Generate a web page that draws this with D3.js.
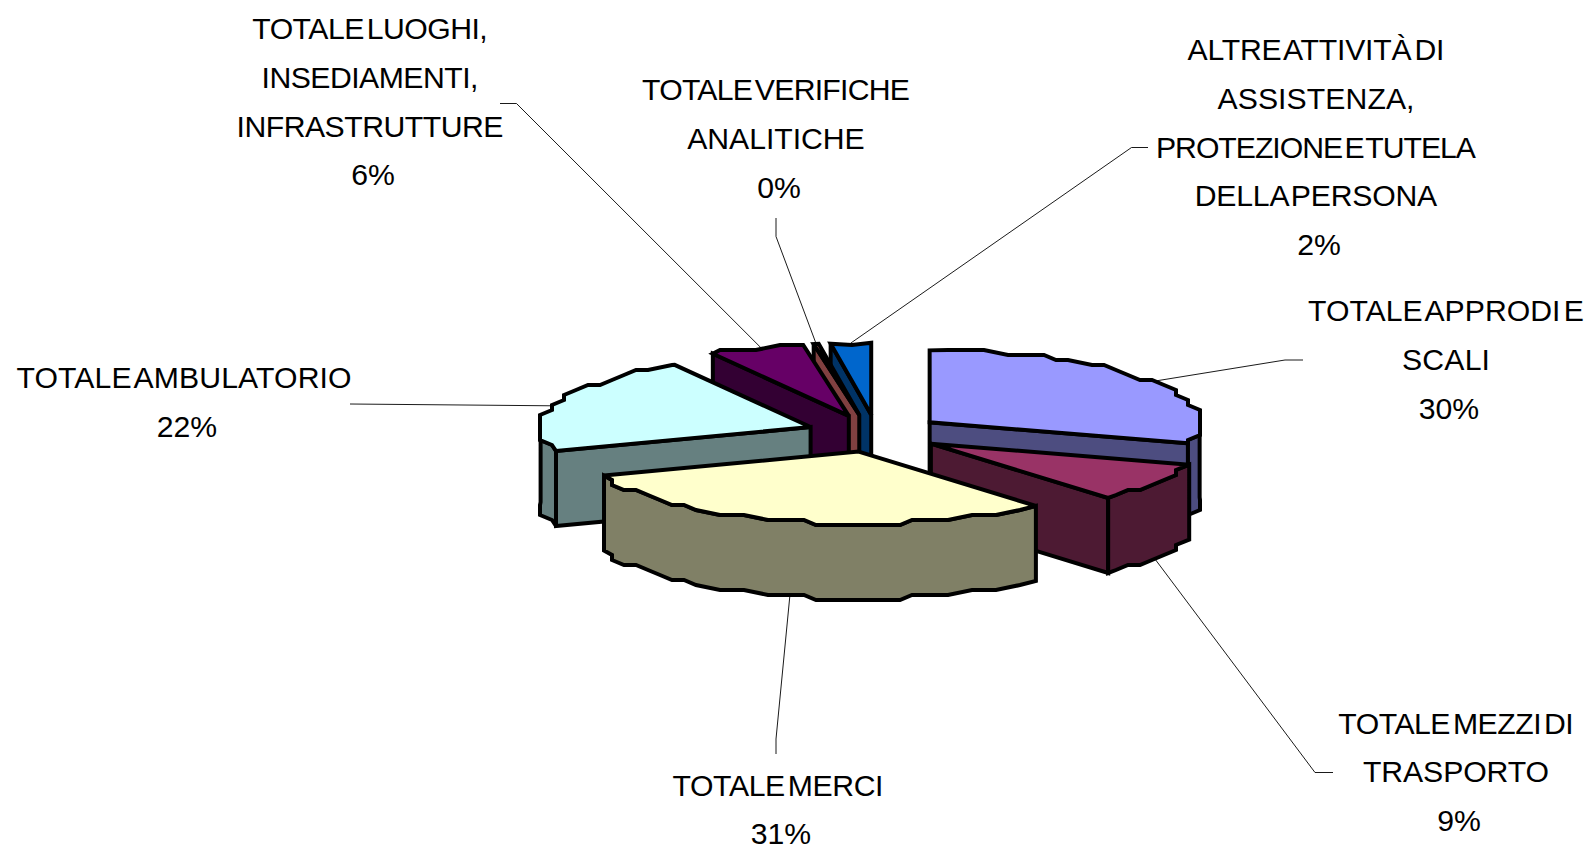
<!DOCTYPE html>
<html>
<head>
<meta charset="utf-8">
<script src="https://cdn.jsdelivr.net/npm/d3@7"></script>
<style>
  body { margin: 0; background: #fff; }
  text { font-family: "Liberation Sans", Arial, sans-serif; font-size: 30.2px; fill: #000; word-spacing: -5px; }
</style>
</head>
<body>
<svg id="screen" width="1592" height="846"></svg>
<script>
// values, clockwise from 12 o'clock
const categories = [
  ["TOTALE APPRODI E", "SCALI"],
  ["TOTALE MEZZI DI", "TRASPORTO"],
  ["TOTALE MERCI"],
  ["TOTALE AMBULATORIO"],
  ["TOTALE LUOGHI,", "INSEDIAMENTI,", "INFRASTRUTTURE"],
  ["TOTALE VERIFICHE", "ANALITICHE"],
  ["ALTRE ATTIVITÀ DI", "ASSISTENZA,", "PROTEZIONE E TUTELA", "DELLA PERSONA"]
]
const values = [29.7, 8.9, 31, 22, 5.7, 0.3, 2.4]
const topColors = ["#9999FF", "#993366", "#FFFFCC", "#CCFFFF", "#660066", "#FF8080", "#0066CC"]

// label layout: centre x, first baseline, line widths, then the leader line's outer points
const labelX = [1446, 1456, 778, 184, 370, 776, 1316]
const labelY = [321, 733.5, 795.5, 388, 39, 100, 60]
const lineWidths = [
  [276, 88],
  [235.5, 186],
  [211],
  [335],
  [235.5, 217, 267],
  [268, 177.5],
  [257, 197, 320, 242.5]
]
const leaderEnds = [
  [[1303, 360], [1285, 360]],
  [[1333, 772.5], [1315, 772.5]],
  [[776, 754], [776, 739]],
  [[350, 404], [350, 404]],
  [[500, 103.5], [516.5, 103.5]],
  [[776, 218], [776, 236.5]],
  [[1148, 147.5], [1131.5, 147.5]]
]
// leader line meets the rim a few degrees off the slice's middle
const leaderShift = [2, 1, 0, -3, 1, 0, 0]
const lineHeight = 48.8
const pctShift = 3

// pie geometry
const center = {x: 876.5, y: 433.5}
const rx = 270, ry = 72, depth = 75
const explodeY = 0.26
const explodeX = [0.245, 0.24, 0.26, 0.26, 0.3, 0.4, 0.26]
// the original outline is coarse, keep that jagged look
const gridX = 12, gridY = 5

let svg = d3.select("#screen")
let line = d3.line()

const slices = d3.pie().sort(null).startAngle(0).endAngle(2 * Math.PI)(values)
  .map((d, i) => {
    let mid = (d.startAngle + d.endAngle) / 2
    return {
      i: i,
      start: d.startAngle,
      end: d.endAngle,
      mid: mid,
      ax: center.x + explodeX[i] * rx * Math.sin(mid),
      ay: center.y - explodeY * ry * Math.cos(mid)
    }
  })

function rim(s, angle) {
  return [s.ax + rx * Math.sin(angle), s.ay - ry * Math.cos(angle)]
}

// outline of the rim between two angles, snapped to the coarse grid
function arcPoints(s, from, to) {
  let pts = [rim(s, from)]
  let step = 4 * Math.PI / 180
  for (let a = Math.ceil(from / step + 0.5) * step; a < to - 0.03; a += step) {
    let p = rim(s, a)
    let q = [Math.round(p[0] / gridX) * gridX, Math.round(p[1] / gridY) * gridY]
    let last = pts[pts.length - 1]
    if (q[0] != last[0] || q[1] != last[1]) pts.push(q)
  }
  pts.push(rim(s, to))
  return pts
}

function drop(pts) {
  return pts.map(p => [p[0], p[1] + depth])
}

function face(pts, color) {
  svg.append("path")
     .attr("d", line(pts) + "Z")
     .attr("fill", color)
     .attr("stroke", "#000")
     .attr("stroke-width", 4)
     .attr("stroke-linejoin", "miter")
     .attr("stroke-miterlimit", 3)
}

// back to front
slices.slice().sort((a, b) => Math.cos(b.mid) - Math.cos(a.mid)).forEach(s => {
  let c = d3.rgb(topColors[s.i])
  let wallColor = d3.rgb(c.r / 2, c.g / 2, c.b / 2).formatHex()

  let apex = [s.ax, s.ay]
  // cut faces turned towards the viewer
  if (Math.sin(s.start) < -0.001) {
    let p = rim(s, s.start)
    face([apex, p, [p[0], p[1] + depth], [apex[0], apex[1] + depth]], wallColor)
  }
  if (Math.sin(s.end) > 0.001) {
    let p = rim(s, s.end)
    face([apex, p, [p[0], p[1] + depth], [apex[0], apex[1] + depth]], wallColor)
  }
  // outer wall, front half of the rim only
  let from = Math.max(s.start, Math.PI / 2), to = Math.min(s.end, 3 * Math.PI / 2)
  if (from < to) {
    let arc = arcPoints(s, from, to)
    face(arc.concat(drop(arc).reverse()), wallColor)
  }
  // top face
  face([apex].concat(arcPoints(s, s.start, s.end)), topColors[s.i])
})

// leader lines
slices.forEach(s => {
  let angle = s.mid + leaderShift[s.i] * Math.PI / 180
  let p = rim(s, angle)
  if (Math.cos(angle) < 0) p[1] += depth
  svg.append("path")
     .attr("d", line(leaderEnds[s.i].concat([p])))
     .attr("fill", "none")
     .attr("stroke", "#000")
     .attr("stroke-width", 0.9)
})

// labels
const pct = d3.format(".0%")
categories.forEach((lines, i) => {
  lines.forEach((t, j) => {
    svg.append("text")
       .attr("x", labelX[i])
       .attr("y", labelY[i] + j * lineHeight)
       .attr("text-anchor", "middle")
       .attr("textLength", lineWidths[i][j])
       .attr("lengthAdjust", "spacing")
       .text(t)
  })
  svg.append("text")
     .attr("x", labelX[i] + pctShift)
     .attr("y", labelY[i] + lines.length * lineHeight)
     .attr("text-anchor", "middle")
     .text(pct(values[i] / 100))
})
</script>
</body>
</html>
